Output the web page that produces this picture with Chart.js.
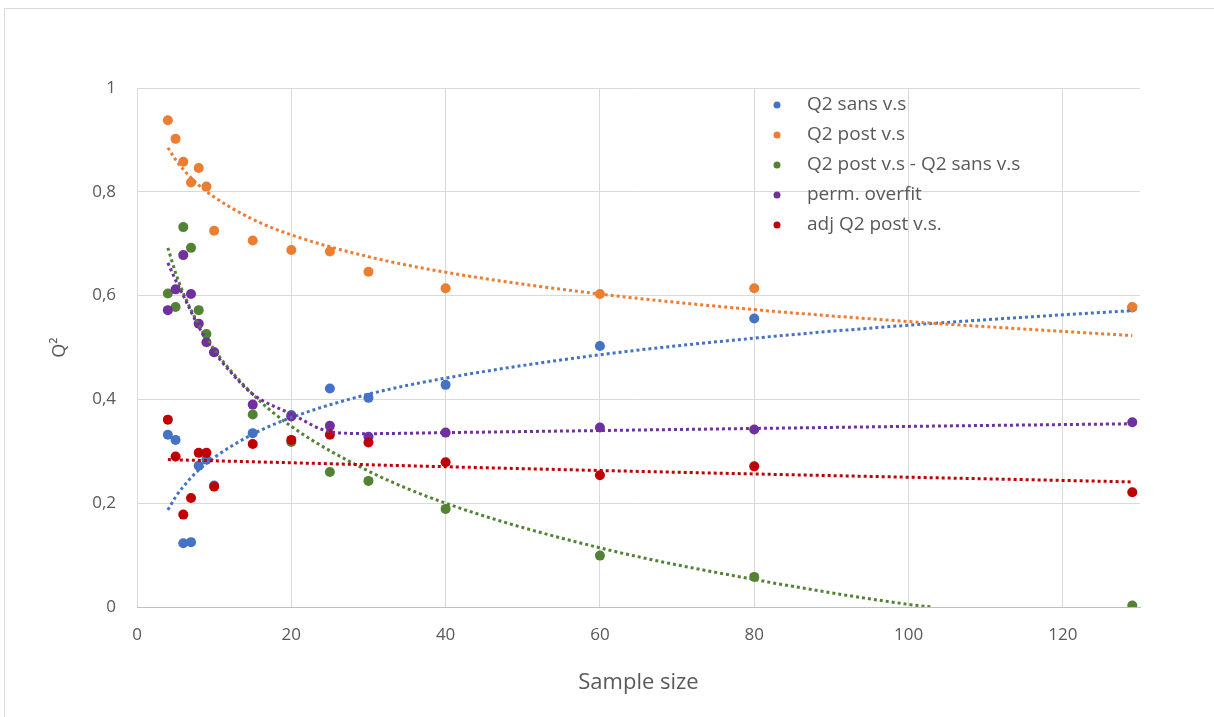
<!DOCTYPE html>
<html lang="fr">
  <head>
    <meta charset="UTF-8" />
    <title>Q2 vs sample size</title>
    <script src="https://cdn.jsdelivr.net/npm/chart.js"></script>
    <style>
      html,
      body {
        margin: 0;
        padding: 0;
        background: #fff;
      }
      .wrap {
        position: relative;
        width: 1214px;
        height: 717px;
        overflow: hidden;
      }
      .frame {
        position: absolute;
        left: 4px;
        top: 8px;
        width: 1300px;
        height: 800px;
        border: 1px solid #d9d9d9;
      }
      canvas {
        position: absolute;
        left: 0;
        top: 0;
      }
    </style>
  </head>
  <body>
    <div class="wrap">
      <div class="frame"></div>
      <canvas id="q2Chart" width="1214" height="717"></canvas>
    </div>

    <script>
      // sample sizes (x) shared by every series
      const sampleSizes = [4, 5, 6, 7, 8, 9, 10, 15, 20, 25, 30, 40, 60, 80, 129];

      const q2Sans = [0.332, 0.322, 0.123, 0.125, 0.272, 0.284, 0.234, 0.335, 0.37, 0.421, 0.403, 0.428, 0.503, 0.556, 0.577];
      const q2Post = [0.938, 0.902, 0.858, 0.818, 0.846, 0.81, 0.725, 0.706, 0.688, 0.685, 0.646, 0.614, 0.603, 0.614, 0.578];
      const q2Diff = [0.604, 0.578, 0.732, 0.692, 0.572, 0.526, 0.491, 0.371, 0.318, 0.26, 0.243, 0.189, 0.099, 0.058, 0.003];
      const permOverfit = [0.572, 0.612, 0.678, 0.603, 0.546, 0.51, 0.491, 0.39, 0.367, 0.349, 0.328, 0.336, 0.346, 0.342, 0.356];
      const adjQ2Post = [0.361, 0.29, 0.178, 0.21, 0.297, 0.297, 0.232, 0.314, 0.322, 0.332, 0.317, 0.279, 0.254, 0.271, 0.221];

      const seriesNames = [
        "Q2 sans v.s",
        "Q2 post v.s",
        "Q2 post v.s - Q2 sans v.s",
        "perm. overfit",
        "adj Q2 post v.s.",
      ];

      // dotted trend lines
      const trendSansX = [4, 5, 6, 8, 10, 15, 20, 30, 40, 60, 80, 100, 120, 129];
      const trendSansY = [0.187, 0.212, 0.232, 0.264, 0.288, 0.333, 0.365, 0.41, 0.441, 0.486, 0.518, 0.543, 0.563, 0.571];
      const trendPostX = [4, 5, 6, 8, 10, 15, 20, 30, 40, 60, 80, 100, 120, 129];
      const trendPostY = [0.885, 0.862, 0.843, 0.813, 0.79, 0.747, 0.717, 0.675, 0.645, 0.603, 0.573, 0.55, 0.531, 0.523];
      const trendDiffX = [4, 5, 6, 8, 10, 15, 20, 30, 40, 60, 80, 100, 103];
      const trendDiffY = [0.692, 0.644, 0.605, 0.544, 0.496, 0.41, 0.348, 0.262, 0.2, 0.114, 0.053, 0.005, 0];
      const trendPermX = [4, 5, 6, 8, 10, 12, 15, 20, 25, 30, 40, 60, 80, 100, 129];
      const trendPermY = [0.663, 0.63, 0.6, 0.54, 0.492, 0.455, 0.41, 0.372, 0.338, 0.334, 0.336, 0.34, 0.344, 0.348, 0.353];
      const trendAdjX = [4, 60, 129];
      const trendAdjY = [0.284, 0.263, 0.241];

      // axis ticks
      const xTicks = [0, 20, 40, 60, 80, 100, 120];
      const yTicks = [0, 0.2, 0.4, 0.6, 0.8, 1];

      const colors = ["#4472C4", "#ED7D31", "#548235", "#7030A0", "#C00000"];
      const seriesValues = [q2Sans, q2Post, q2Diff, permOverfit, adjQ2Post];
      const trends = [
        [trendSansX, trendSansY],
        [trendPostX, trendPostY],
        [trendDiffX, trendDiffY],
        [trendPermX, trendPermY],
        [trendAdjX, trendAdjY],
      ];

      const pointSets = seriesValues.map((vals, i) => ({
        type: "scatter",
        label: seriesNames[i],
        data: sampleSizes.map((x, j) => ({ x: x, y: vals[j] })),
        backgroundColor: colors[i],
        borderColor: colors[i],
        pointRadius: 5,
        pointBorderWidth: 0,
        order: 20 - i,
      }));

      const trendSets = trends.map(([xs, ys], i) => ({
        type: "line",
        label: seriesNames[i] + " trend",
        data: xs.map((x, j) => ({ x: x, y: ys[j] })),
        borderColor: colors[i],
        borderWidth: 3,
        borderDash: [3, 3],
        pointRadius: 0,
        fill: false,
        cubicInterpolationMode: "monotone",
        order: 10 - i,
      }));

      // legend drawn inside the plot, top right, no box
      const insideLegend = {
        id: "insideLegend",
        afterDraw(chart) {
          const { ctx, chartArea } = chart;
          const mx = chartArea.left + 640;
          const tx = chartArea.left + 670;
          ctx.save();
          ctx.font = "19px 'Open Sans'";
          ctx.textBaseline = "middle";
          seriesNames.forEach((name, i) => {
            const y = chartArea.top + 17 + i * 30;
            ctx.fillStyle = colors[i];
            ctx.beginPath();
            ctx.arc(mx, y, 3.5, 0, Math.PI * 2);
            ctx.fill();
            ctx.fillStyle = "#595959";
            ctx.fillText(name, tx, y);
          });
          ctx.restore();
        },
      };

      new Chart(document.getElementById("q2Chart"), {
        type: "scatter",
        data: { datasets: [...pointSets, ...trendSets] },
        plugins: [insideLegend],
        options: {
          responsive: false,
          animation: false,
          layout: { padding: { left: 49, top: 88, right: 74, bottom: 21 } },
          plugins: {
            legend: { display: false },
            tooltip: { enabled: false },
          },
          scales: {
            x: {
              type: "linear",
              min: 0,
              max: 130,
              afterBuildTicks: (scale) => {
                scale.ticks = xTicks.map((v) => ({ value: v }));
              },
              afterFit: (scale) => {
                scale.height = 89;
              },
              grid: { color: "#d9d9d9", drawTicks: false },
              border: { color: "#bfbfbf", width: 1 },
              ticks: {
                padding: 18,
                color: "#595959",
                font: { family: "'Open Sans'", size: 17 },
              },
              title: {
                display: true,
                text: "Sample size",
                color: "#595959",
                padding: 0,
                font: { family: "'Open Sans'", size: 22 },
              },
            },
            y: {
              min: 0,
              max: 1,
              afterBuildTicks: (scale) => {
                scale.ticks = yTicks.map((v) => ({ value: v }));
              },
              afterFit: (scale) => {
                scale.width = 88;
              },
              grid: { color: "#d9d9d9", drawTicks: false },
              border: { display: false },
              ticks: {
                padding: 21,
                color: "#595959",
                font: { family: "'Open Sans'", size: 17 },
                callback: (v) => String(Number(v.toFixed(1))).replace(".", ","),
              },
              title: {
                display: true,
                text: "Q²",
                color: "#595959",
                padding: 0,
                font: { family: "'Open Sans'", size: 18 },
              },
            },
          },
        },
      });
    </script>
  </body>
</html>
